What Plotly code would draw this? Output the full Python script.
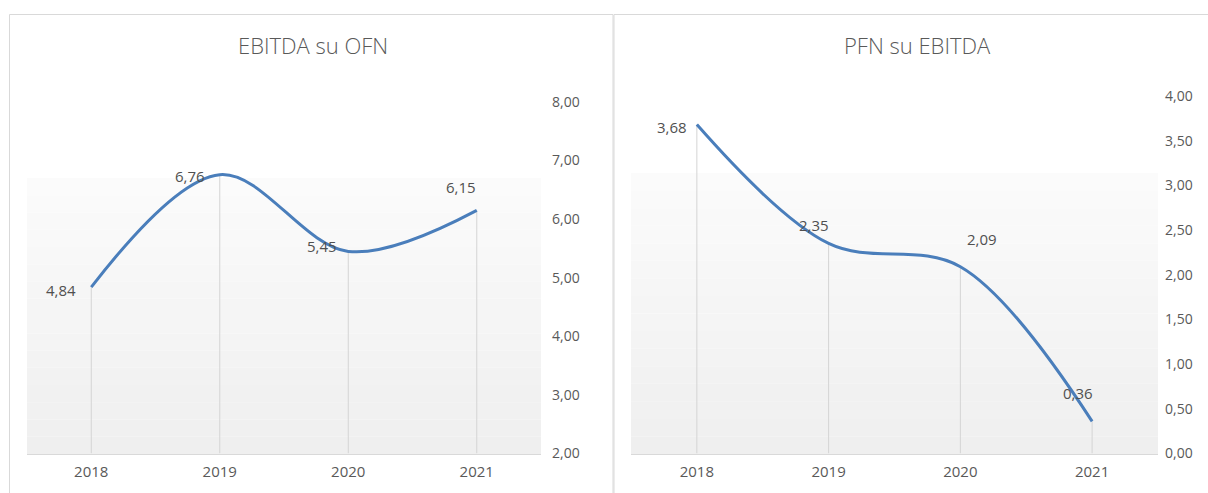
import plotly.graph_objects as go

years = ["2018", "2019", "2020", "2021"]
ebitda_ofn = [4.84, 6.76, 5.45, 6.15]
pfn_ebitda = [3.68, 2.35, 2.09, 0.36]
title_left = "EBITDA su OFN"
title_right = "PFN su EBITDA"
ticks_left = [2, 3, 4, 5, 6, 7, 8]
ticks_right = [0, 0.5, 1, 1.5, 2, 2.5, 3, 3.5, 4]

W, H = 1208, 493
LINE = "#4a7ebb"
GRAY_TXT = "#595959"
FONT = "Open Sans, Lato, sans-serif"
xpos = list(range(len(years)))


def fmt(v):
    return f"{v:.2f}".replace(".", ",")


fig = go.Figure()

# drop lines (via error bars) + curves
for vals, ymin, xa, ya in [(ebitda_ofn, 2, "x", "y"), (pfn_ebitda, 0, "x2", "y2")]:
    fig.add_trace(go.Scatter(
        x=xpos, y=vals, mode="markers", xaxis=xa, yaxis=ya,
        marker=dict(opacity=0, size=1), showlegend=False, hoverinfo="skip",
        error_y=dict(type="data", symmetric=False, array=[0] * len(vals),
                     arrayminus=[v - ymin for v in vals], color="#d4d4d4",
                     thickness=1, width=0)))
    fig.add_trace(go.Scatter(
        x=xpos, y=vals, mode="lines", xaxis=xa, yaxis=ya,
        line=dict(color=LINE, width=3, shape="spline", smoothing=1),
        showlegend=False))

# label offsets (pixels)
shifts_left = [(-30, -3), (-30, -1), (-26, 5), (-16, 23)]
shifts_right = [(-25, -2), (-15, 18), (22, 28), (-14, 28)]
for vals, shifts, xa, ya in [(ebitda_ofn, shifts_left, "x", "y"), (pfn_ebitda, shifts_right, "x2", "y2")]:
    for xi, v, (dx, dy) in zip(xpos, vals, shifts):
        fig.add_annotation(x=xi, y=v, xref=xa, yref=ya, text=fmt(v), showarrow=False,
                           xshift=dx, yshift=dy, xanchor="center", yanchor="middle",
                           font=dict(size=15, color="#505050", family=FONT))

# titles
for tx, ttl in [(313, title_left), (917, title_right)]:
    fig.add_annotation(x=tx / W, y=1 - 45 / H, xref="paper", yref="paper", text=ttl,
                       xanchor="center", yanchor="middle", showarrow=False,
                       font=dict(size=22, color=GRAY_TXT, family=FONT, weight=300))

# gradient background bands
shapes = []
n = 16
for xr, top_px in [("x domain", 178), ("x2 domain", 173)]:
    bot_px = 454
    for i in range(n):
        y0 = top_px + (bot_px - top_px) * i / n
        y1 = top_px + (bot_px - top_px) * (i + 1) / n
        c = int(round(251 - (251 - 239) * i / (n - 1)))
        col = f"rgb({c},{c},{c})"
        shapes.append(dict(type="rect", xref=xr, yref="paper", x0=0, x1=1,
                           y0=1 - y1 / H, y1=1 - y0 / H, fillcolor=col,
                           line=dict(width=0), layer="below"))
# chart borders
shapes.append(dict(type="rect", xref="paper", yref="paper", x0=9.5 / W, x1=613 / W,
                   y0=-0.05, y1=1 - 14.5 / H, line=dict(color="#d9d9d9", width=1),
                   fillcolor="rgba(0,0,0,0)", layer="below"))
shapes.append(dict(type="rect", xref="paper", yref="paper", x0=614 / W, x1=1.05,
                   y0=-0.05, y1=1 - 14.5 / H, line=dict(color="#d9d9d9", width=1),
                   fillcolor="rgba(0,0,0,0)", layer="below"))

xfont = dict(size=15, color=GRAY_TXT, family=FONT)
yfont = dict(size=14, color=GRAY_TXT, family=FONT)
xcommon = dict(range=[-0.5, len(years) - 0.5], tickvals=xpos, ticktext=years, showgrid=False,
               showline=True, linecolor="#d9d9d9", linewidth=1, ticks="", automargin=False,
               tickfont=xfont, zeroline=False, fixedrange=True, ticklabelstandoff=4)
ycommon = dict(tickformat=".2f", side="right", anchor="free", automargin=False,
               showgrid=False, zeroline=False, showline=False, tickfont=yfont)
fig.update_layout(
    width=W, height=H, margin=dict(l=0, r=0, t=0, b=0, autoexpand=False),
    paper_bgcolor="white", plot_bgcolor="rgba(0,0,0,0)",
    separators=",.", shapes=shapes, showlegend=False,
    xaxis=dict(domain=[27 / W, 541 / W], anchor="y", **xcommon),
    xaxis2=dict(domain=[631 / W, 1158 / W], anchor="y2", **xcommon),
    yaxis=dict(domain=[1 - 453.5 / H, 1 - 102 / H], range=[2, 8], tickvals=ticks_left,
               position=551 / W, **ycommon),
    yaxis2=dict(domain=[1 - 453.5 / H, 1 - 96 / H], range=[0, 4], tickvals=ticks_right,
                position=1164 / W, **ycommon),
)

fig.write_html("out.html")
